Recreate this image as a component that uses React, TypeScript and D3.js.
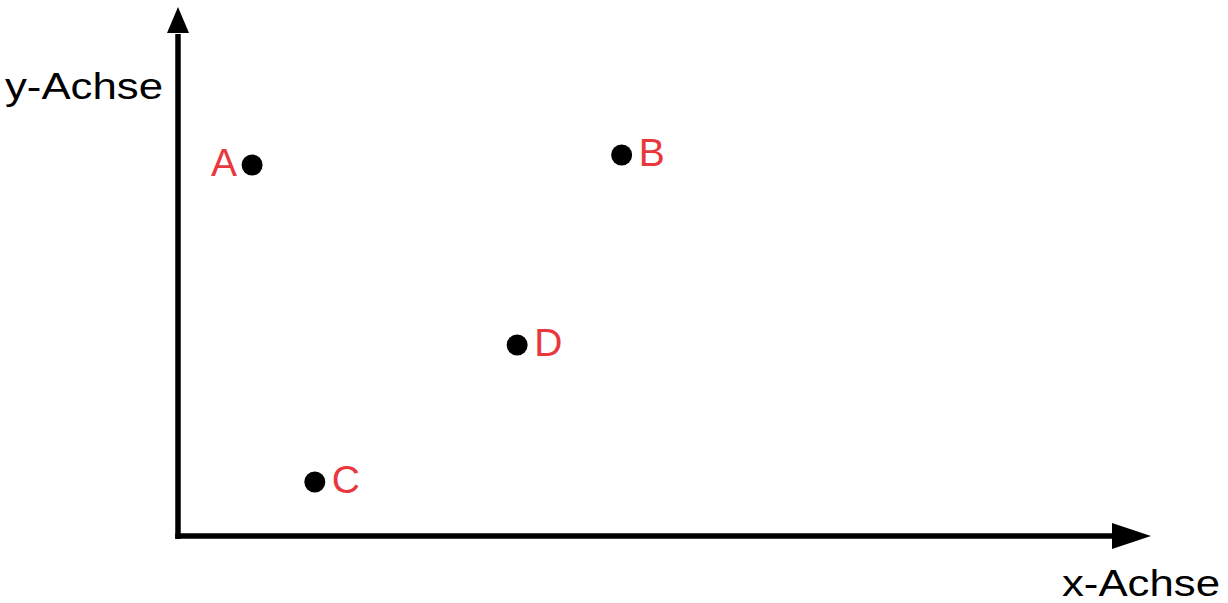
import React from "react";
import * as d3 from "d3";

const pointNames = ["A", "B", "C", "D"];
const xValues = [7.8, 46.7, 14.4, 35.7];
const yValues = [74.2, 76.2, 10.8, 38.2];
const labelSides = ["left", "right", "right", "right"];
const xAxisTitle = "x-Achse";
const yAxisTitle = "y-Achse";

const W = 1228;
const H = 603;
const FONT = "'Liberation Sans', Arial, Helvetica, sans-serif";
const RED = "#e8383d";

export default function App() {
  const x = d3.scaleLinear().domain([0, 100]).range([178, 1128]);
  const y = d3.scaleLinear().domain([0, 100]).range([536, 36]);

  const x0 = x(0);
  const y0 = y(0);
  const xArrowBase = 1112;
  const xArrowTip = 1151;
  const yArrowBase = 33;
  const yArrowTip = 7;

  const points = pointNames.map((n, i) => ({
    name: n,
    cx: x(xValues[i]),
    cy: y(yValues[i]),
    side: labelSides[i],
  }));

  return (
    <svg
      width={W}
      height={H}
      style={{ position: "absolute", left: 0, top: 0, display: "block", background: "#fff" }}
    >
      <rect x={0} y={0} width={W} height={H} fill="#fff" />
      {/* y axis */}
      <line x1={x0} y1={y0 + 3} x2={x0} y2={yArrowBase + 1} stroke="#000" strokeWidth={5.5} />
      <polygon
        points={`${x0},${yArrowTip} ${x0 - 11},${yArrowBase} ${x0 + 11},${yArrowBase}`}
        fill="#000"
      />
      {/* x axis */}
      <line x1={x0 - 2.75} y1={y0} x2={xArrowBase + 1} y2={y0} stroke="#000" strokeWidth={5.5} />
      <polygon
        points={`${xArrowTip},${y0} ${xArrowBase},${y0 - 13} ${xArrowBase},${y0 + 13}`}
        fill="#000"
      />
      {/* axis titles */}
      <text
        x={5}
        y={99}
        fontFamily={FONT}
        fontSize={37}
        fill="#000"
        textLength={158}
        lengthAdjust="spacingAndGlyphs"
      >
        {yAxisTitle}
      </text>
      <text
        x={1062}
        y={596}
        fontFamily={FONT}
        fontSize={37}
        fill="#000"
        textLength={158}
        lengthAdjust="spacingAndGlyphs"
      >
        {xAxisTitle}
      </text>
      {/* points */}
      {points.map((p) => (
        <g key={p.name}>
          <circle cx={p.cx} cy={p.cy} r={10.5} fill="#000" />
          <text
            x={p.side === "left" ? p.cx - 15 : p.cx + 17}
            y={p.cy + 11}
            textAnchor={p.side === "left" ? "end" : "start"}
            fontFamily={FONT}
            fontSize={39}
            fill={RED}
          >
            {p.name}
          </text>
        </g>
      ))}
    </svg>
  );
}
